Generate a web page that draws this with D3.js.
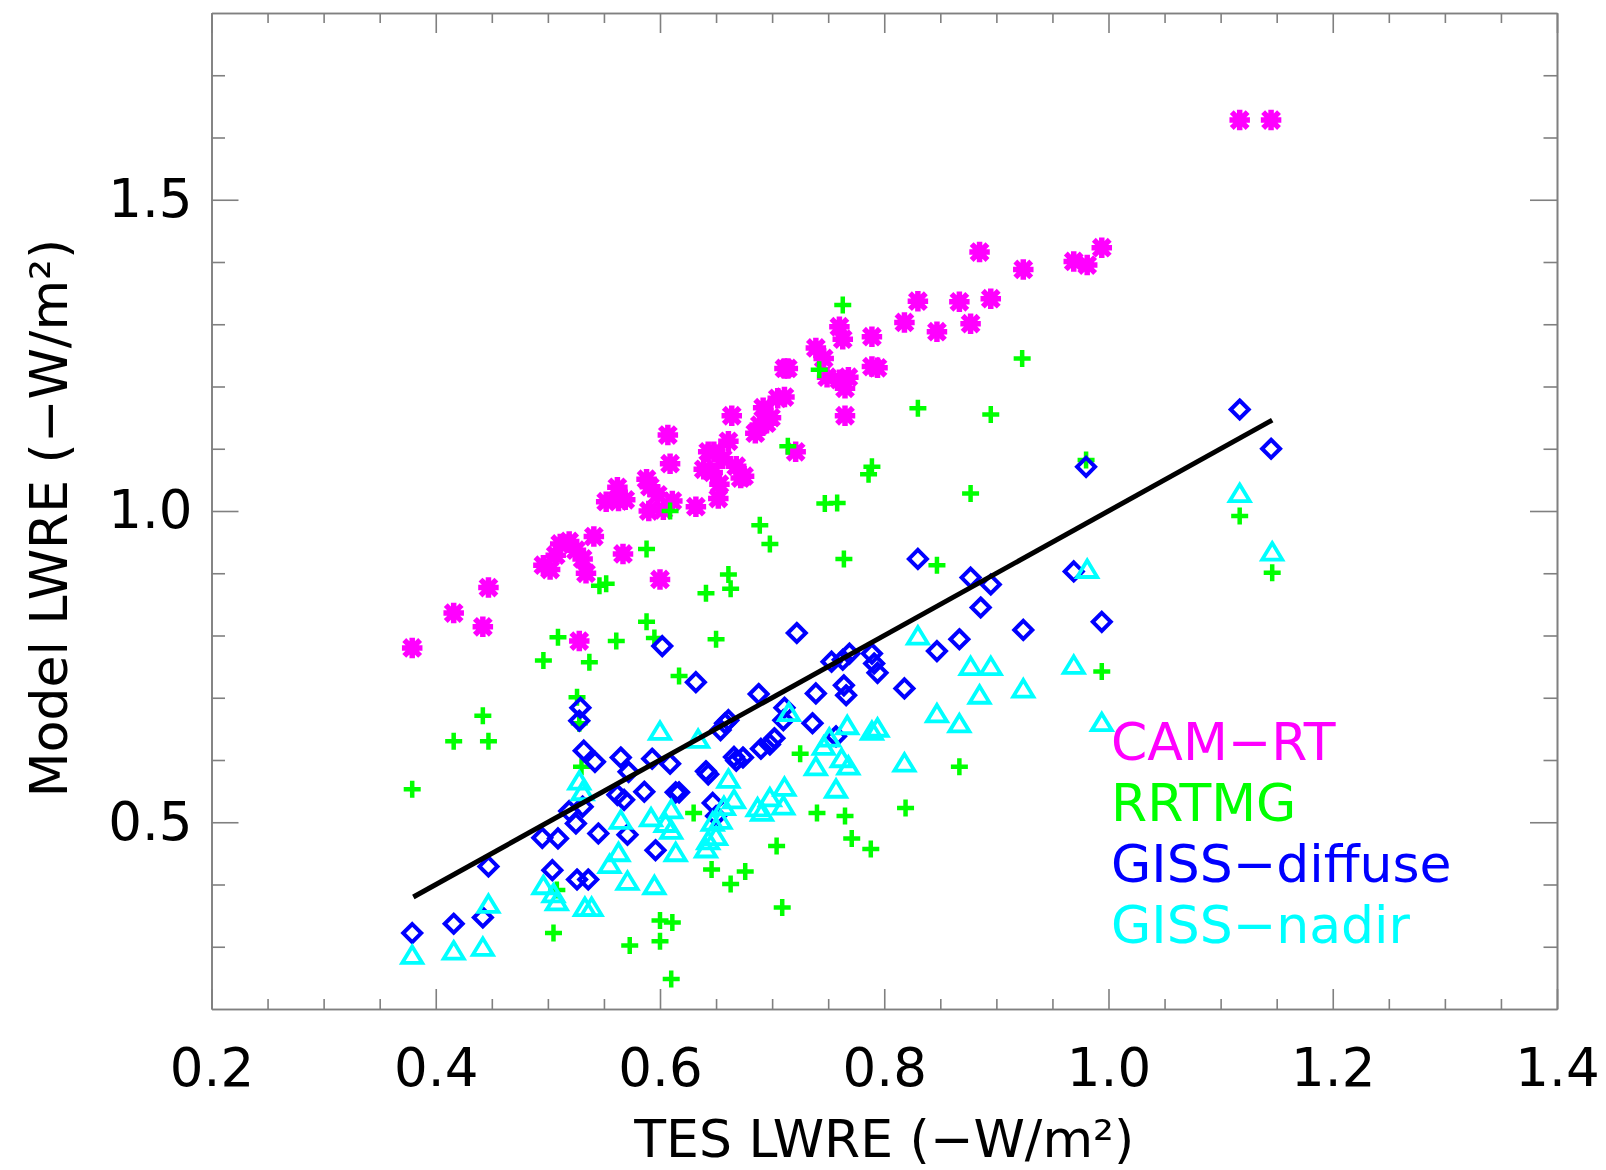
<!DOCTYPE html>
<html>
<head>
<meta charset="utf-8">
<script src="https://cdn.jsdelivr.net/npm/d3@7"></script>
<style>
body { margin: 0; background: #fff; }
text { font-family: 'DejaVu Sans', 'Liberation Sans', sans-serif; }
</style>
</head>
<body>
<script>
// TES vs model longwave radiative effect, one x/y pair of arrays per model
const camX = [0.379,0.416,0.442,0.447,0.496,0.502,0.507,0.511,0.519,0.525,
	0.531,0.534,0.541,0.528,0.552,0.562,0.563,0.569,0.567,0.588,
	0.591,0.590,0.598,0.600,0.603,0.607,0.609,0.611,0.632,0.639,
	0.643,0.648,0.647,0.653,0.652,0.656,0.661,0.664,0.668,0.672,
	0.675,0.685,0.689,0.692,0.695,0.699,0.705,0.711,0.711,0.714,
	0.721,0.739,0.746,0.749,0.760,0.763,0.760,0.765,0.768,0.765,
	0.789,0.789,0.794,0.818,0.830,0.847,0.867,0.877,0.885,0.895,
	0.924,0.969,0.981,0.994,1.117,1.145]
const camY = [0.780,0.836,0.814,0.877,0.913,0.906,0.929,0.947,0.951,0.937,
	0.923,0.900,0.959,0.791,1.015,1.038,1.016,1.018,0.931,1.051,
	1.039,1.000,1.026,0.890,1.002,1.122,1.076,1.016,1.007,1.067,
	1.095,1.095,1.062,1.043,1.020,1.084,1.112,1.153,1.072,1.053,
	1.056,1.125,1.138,1.166,1.141,1.150,1.181,1.229,1.183,1.229,
	1.095,1.262,1.245,1.215,1.296,1.276,1.211,1.197,1.215,1.153,
	1.280,1.232,1.230,1.303,1.337,1.288,1.336,1.301,1.416,1.341,
	1.388,1.401,1.395,1.423,1.628,1.628]

const rrtmgX = [0.379,0.416,0.442,0.447,0.496,0.509,0.505,0.508,0.526,0.528,
	0.537,0.546,0.552,0.561,0.573,0.588,0.588,0.595,0.600,0.600,
	0.609,0.610,0.611,0.617,0.641,0.646,0.650,0.661,0.663,0.663,
	0.676,0.689,0.698,0.704,0.709,0.714,0.725,0.742,0.740,0.747,
	0.758,0.763,0.764,0.765,0.771,0.786,0.789,0.788,0.819,0.830,
	0.847,0.867,0.877,0.895,0.923,0.980,0.994,1.117,1.146,0.530,0.630]
const rrtmgY = [0.553,0.630,0.671,0.630,0.760,0.797,0.322,0.391,0.701,0.659,
	0.757,0.880,0.883,0.791,0.302,0.939,0.822,0.796,0.342,0.309,
	1.000,0.248,0.339,0.735,0.868,0.424,0.794,0.898,0.875,0.401,
	0.421,0.977,0.947,0.462,0.363,1.104,0.610,1.227,0.515,1.012,
	1.013,1.331,0.923,0.510,0.474,1.059,1.071,0.457,0.523,1.165,
	0.913,0.589,1.028,1.155,1.245,1.082,0.742,0.992,0.901,0.589,0.515]

const diffuseX = [0.379,0.416,0.442,0.447,0.495,0.509,0.519,0.504,0.526,0.536,
	0.529,0.528,0.532,0.525,0.531,0.545,0.542,0.565,0.572,0.568,
	0.562,0.593,0.586,0.596,0.602,0.609,0.614,0.632,0.617,0.641,
	0.643,0.647,0.650,0.654,0.658,0.661,0.666,0.668,0.674,0.688,
	0.690,0.698,0.702,0.710,0.711,0.722,0.736,0.739,0.753,0.757,
	0.763,0.764,0.766,0.769,0.789,0.791,0.794,0.818,0.830,0.847,
	0.867,0.877,0.886,0.895,0.924,0.969,0.980,0.994,1.117,1.145,0.571]
const diffuseY = [0.322,0.337,0.347,0.429,0.475,0.474,0.518,0.423,0.408,0.408,
	0.684,0.663,0.615,0.498,0.525,0.482,0.597,0.604,0.581,0.536,
	0.544,0.602,0.549,0.455,0.783,0.594,0.548,0.725,0.548,0.582,
	0.577,0.531,0.510,0.648,0.659,0.664,0.605,0.599,0.604,0.706,
	0.618,0.625,0.635,0.664,0.684,0.804,0.659,0.707,0.758,0.638,
	0.761,0.720,0.704,0.771,0.771,0.755,0.740,0.715,0.923,0.775,
	0.794,0.893,0.845,0.882,0.809,0.903,1.071,0.822,1.163,1.100,0.480]

const nadirX = [0.379,0.416,0.442,0.447,0.496,0.505,0.508,0.528,0.531,0.533,
	0.539,0.555,0.563,0.571,0.565,0.592,0.595,0.600,0.605,0.610,
	0.610,0.614,0.634,0.641,0.643,0.647,0.650,0.654,0.657,0.661,
	0.666,0.687,0.691,0.698,0.710,0.711,0.715,0.739,0.746,0.751,
	0.757,0.762,0.767,0.768,0.789,0.794,0.818,0.830,0.847,0.867,
	0.877,0.885,0.895,0.924,0.969,0.981,0.994,1.117,1.146]
const nadirY = [0.286,0.293,0.299,0.368,0.398,0.385,0.372,0.566,0.549,0.363,
	0.363,0.432,0.451,0.405,0.503,0.507,0.398,0.646,0.498,0.520,
	0.487,0.451,0.633,0.457,0.470,0.500,0.477,0.503,0.525,0.569,
	0.536,0.523,0.516,0.539,0.526,0.556,0.676,0.589,0.622,0.635,
	0.553,0.602,0.655,0.590,0.646,0.651,0.595,0.799,0.674,0.658,
	0.750,0.704,0.750,0.714,0.752,0.906,0.660,1.028,0.934]

// one-to-one reference line
const oneToOne = [0.38, 1.146]

const models = ['CAM\u2212RT', 'RRTMG', 'GISS\u2212diffuse', 'GISS\u2212nadir']
const colors = ['#ff00ff', '#00ff00', '#0000ff', '#00ffff']
const xTicks = [0.2, 0.4, 0.6, 0.8, 1.0, 1.2, 1.4]
const yTicks = [0.5, 1.0, 1.5]

const W = 1606
const H = 1170
const plot = { left: 211.5, right: 1557, top: 13, bottom: 1009 }
const font = "'DejaVu Sans', 'Liberation Sans', sans-serif"

const x = d3.scaleLinear().domain([0.2, 1.4]).range([plot.left, plot.right])
const y = d3.scaleLinear().domain([0.2, 1.8]).range([plot.bottom, plot.top])

const svg = d3.select('body')
	.append('svg')
	.attr('width', W)
	.attr('height', H)

// frame + ticks (IDL style: ticks on all four sides, pointing inward)
const frameColor = '#808080'
const xMinor = d3.range(0.25, 1.4, 0.05).filter(v => Math.abs(v * 5 - Math.round(v * 5)) > 1e-6)
const yMinor = d3.range(0.3, 1.8, 0.1).filter(v => Math.abs(v * 2 - Math.round(v * 2)) > 1e-6)

const addAxis = (axis, tx, ty, cls) => {
	const g = svg.append('g')
		.attr('class', cls)
		.attr('transform', `translate(${tx},${ty})`)
		.call(axis)
	g.selectAll('path, line').attr('stroke', frameColor).attr('stroke-width', 1.6)
	g.selectAll('text')
		.attr('fill', '#000')
		.style('font-family', font)
		.style('font-size', '53px')
	return g
}

addAxis(d3.axisBottom(x).tickValues(xTicks).tickSize(-20).tickSizeOuter(0).tickPadding(39)
	.tickFormat(d3.format('.1f')), 0, plot.bottom, 'axis axis--x')
addAxis(d3.axisBottom(x).tickValues(xMinor).tickSize(-10).tickSizeOuter(0).tickFormat(''), 0, plot.bottom, 'axis minor')
addAxis(d3.axisTop(x).tickValues(xTicks).tickSize(-20).tickSizeOuter(0).tickFormat(''), 0, plot.top, 'axis')
addAxis(d3.axisTop(x).tickValues(xMinor).tickSize(-10).tickSizeOuter(0).tickFormat(''), 0, plot.top, 'axis minor')

addAxis(d3.axisLeft(y).tickValues(yTicks).tickSize(-27).tickSizeOuter(0).tickPadding(19)
	.tickFormat(d3.format('.1f')), plot.left, 0, 'axis axis--y')
addAxis(d3.axisLeft(y).tickValues(yMinor).tickSize(-13.5).tickSizeOuter(0).tickFormat(''), plot.left, 0, 'axis minor')
addAxis(d3.axisRight(y).tickValues(yTicks).tickSize(-27).tickSizeOuter(0).tickFormat(''), plot.right, 0, 'axis')
addAxis(d3.axisRight(y).tickValues(yMinor).tickSize(-13.5).tickSizeOuter(0).tickFormat(''), plot.right, 0, 'axis minor')

// markers
const shapes = [
	'M-7.5,0H7.5M0,-7.5V7.5M-6,-6L6,6M-6,6L6,-6',           // thick asterisk
	'M-8.5,0H8.5M0,-8.5V8.5',                               // plus
	'M0,-9L9,0L0,9L-9,0Z',                                  // diamond
	'M0,-9L10,7.5L-10,7.5Z'                                 // triangle
]
const widths = [5.5, 4.5, 4, 3.8]
const caps = ['square', 'butt', 'butt', 'butt']
const series = [
	[camX, camY], [rrtmgX, rrtmgY], [diffuseX, diffuseY], [nadirX, nadirY]
]

series.forEach(([xs, ys], i) => {
	const pts = d3.range(Math.min(xs.length, ys.length)).map(k => [xs[k], ys[k]])
	svg.append('g')
		.attr('class', 'series')
		.selectAll('path')
		.data(pts)
		.enter()
		.append('path')
		.attr('transform', d => `translate(${x(d[0])},${y(d[1])})`)
		.attr('d', shapes[i])
		.attr('fill', 'none')
		.attr('stroke', colors[i])
		.attr('stroke-width', widths[i])
		.attr('stroke-linecap', caps[i])
})

svg.append('line')
	.attr('x1', x(oneToOne[0]))
	.attr('y1', y(oneToOne[0]))
	.attr('x2', x(oneToOne[1]))
	.attr('y2', y(oneToOne[1]))
	.attr('stroke', '#000')
	.attr('stroke-width', 5)

// legend
svg.append('g')
	.selectAll('text')
	.data(models)
	.enter()
	.append('text')
	.attr('x', 1111)
	.attr('y', (d, i) => 760 + i * 61)
	.attr('fill', (d, i) => colors[i])
	.style('font-size', '52px')
	.text(d => d)

// axis titles
svg.append('text')
	.attr('x', (plot.left + plot.right) / 2)
	.attr('y', 1157)
	.attr('text-anchor', 'middle')
	.style('font-size', '52px')
	.text('TES LWRE (\u2212W/m\u00b2)')

svg.append('text')
	.attr('transform', `translate(67,${(plot.top + plot.bottom) / 2 + 7}) rotate(-90)`)
	.attr('text-anchor', 'middle')
	.style('font-size', '52px')
	.text('Model LWRE (\u2212W/m\u00b2)')
</script>
</body>
</html>
